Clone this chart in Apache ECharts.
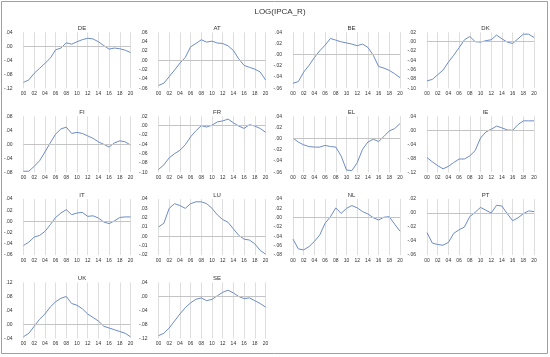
<!DOCTYPE html>
<html><head><meta charset="utf-8">
<script src="https://cdn.jsdelivr.net/npm/echarts@6/dist/echarts.min.js"></script>
<style>html,body{margin:0;padding:0;background:#fff;}#c{width:550px;height:357px;}</style>
</head><body><div id="c"></div>
<script>
const years = ['00','01','02','03','04','05','06','07','08','09','10','11','12','13','14','15','16','17','18','19','20'];
const countries = ['DE','AT','BE','DK','FI','FR','EL','IE','IT','LU','NL','PT','UK','SE'];
const DE = [-0.103,-0.096,-0.077,-0.063,-0.049,-0.034,-0.010,-0.005,0.010,0.006,0.013,0.019,0.023,0.021,0.013,0.002,-0.008,-0.005,-0.007,-0.011,-0.018];
const AT = [-0.054,-0.049,-0.035,-0.021,-0.006,0.006,0.029,0.036,0.044,0.039,0.041,0.037,0.036,0.031,0.021,0.003,-0.011,-0.015,-0.019,-0.025,-0.042];
const BE = [-0.051,-0.048,-0.031,-0.019,-0.005,0.007,0.017,0.029,0.026,0.023,0.021,0.019,0.016,0.019,0.013,-0.001,-0.021,-0.024,-0.028,-0.034,-0.041];
const DK = [-0.084,-0.081,-0.071,-0.061,-0.044,-0.029,-0.013,0.004,0.011,0.000,-0.001,0.002,0.004,0.014,0.006,-0.001,-0.004,0.006,0.016,0.016,0.009];
const FI = [-0.077,-0.077,-0.063,-0.047,-0.022,0.004,0.029,0.044,0.049,0.031,0.034,0.031,0.024,0.017,0.007,0.000,-0.008,0.004,0.010,0.007,-0.002];
const FR = [-0.094,-0.084,-0.069,-0.060,-0.053,-0.041,-0.024,-0.011,0.000,-0.003,0.001,0.008,0.010,0.014,0.006,-0.001,-0.006,0.002,-0.001,-0.006,-0.014];
const EL = [0.001,-0.006,-0.011,-0.014,-0.015,-0.015,-0.012,-0.014,-0.015,-0.031,-0.056,-0.057,-0.043,-0.019,-0.006,-0.001,-0.005,0.004,0.014,0.018,0.027];
const IE = [-0.078,-0.090,-0.101,-0.110,-0.103,-0.092,-0.082,-0.082,-0.073,-0.058,-0.022,-0.005,0.003,0.012,0.007,0.001,0.000,0.016,0.027,0.027,0.027];
const IT = [-0.043,-0.037,-0.028,-0.025,-0.018,-0.006,0.007,0.015,0.021,0.012,0.015,0.016,0.009,0.010,0.006,-0.001,-0.004,0.001,0.007,0.008,0.008];
const LU = [0.010,0.014,0.030,0.035,0.033,0.030,0.035,0.037,0.037,0.035,0.030,0.023,0.018,0.015,0.008,0.001,-0.003,-0.004,-0.008,-0.015,-0.019];
const NL = [-0.046,-0.067,-0.069,-0.062,-0.051,-0.037,-0.012,0.002,0.021,0.009,0.020,0.026,0.021,0.013,0.008,0.000,-0.005,0.001,0.002,-0.014,-0.029];
const PT = [-0.028,-0.043,-0.045,-0.046,-0.042,-0.029,-0.024,-0.020,-0.005,0.001,0.008,0.004,0.000,0.011,0.010,-0.001,-0.011,-0.007,-0.001,0.003,0.002];
const UK = [-0.035,-0.025,-0.005,0.015,0.030,0.050,0.065,0.075,0.080,0.060,0.055,0.045,0.030,0.020,0.010,-0.005,-0.010,-0.015,-0.020,-0.025,-0.035];
const SE = [-0.112,-0.105,-0.090,-0.070,-0.050,-0.032,-0.018,-0.008,-0.004,-0.012,-0.008,0.002,0.012,0.018,0.010,0.000,-0.006,-0.004,-0.012,-0.020,-0.030];
const seriesData = {DE,AT,BE,DK,FI,FR,EL,IE,IT,LU,NL,PT,UK,SE};
// y-axis tick ranges [min, max, step]
const yMin = [-0.12,-0.06,-0.06,-0.10,-0.08,-0.10,-0.06,-0.12,-0.06,-0.02,-0.08,-0.06,-0.04,-0.12];
const yMax = [0.04,0.06,0.04,0.02,0.08,0.02,0.04,0.04,0.04,0.04,0.04,0.02,0.12,0.04];
const yStep = [0.04,0.02,0.02,0.02,0.04,0.02,0.02,0.04,0.02,0.01,0.02,0.02,0.04,0.04];

const colLeft = [23.5, 158.5, 293, 427];
const plotW = 107;
const rowTop = [32.3, 116.3, 199, 282.5];
const plotH = 56;
const font = 'Liberation Sans';
const txt = '#333';
const lineColor = '#6d8cc6';

function fmt(v){
  const n = Math.round(v*100);
  const s = n < 0 ? '-' : '';
  return s + '.' + String(Math.abs(n)).padStart(2,'0');
}

const grids=[], xAxes=[], yAxes=[], series=[], titles=[];
titles.push({text:'LOG(IPCA_R)', left:275, top:3, textAlign:'center',
  textStyle:{fontFamily:font, fontSize:8, fontWeight:'normal', color:txt}});
countries.forEach((c,i)=>{
  const col=i%4, row=Math.floor(i/4);
  const L=colLeft[col], T=rowTop[row];
  grids.push({left:L, top:T, width:plotW, height:plotH, containLabel:false});
  xAxes.push({type:'category', gridIndex:i, data:years, boundaryGap:false,
    axisLine:{show:false}, axisTick:{show:false},
    axisLabel:{interval:1, fontSize:5, fontFamily:font, color:txt, margin:3},
    splitLine:{show:true, interval:1, lineStyle:{color:'#dedede', width:1}}});
  yAxes.push({type:'value', gridIndex:i, min:yMin[i], max:yMax[i], interval:yStep[i],
    axisLine:{show:false}, axisTick:{show:false},
    axisLabel:{fontSize:5, fontFamily:font, color:txt, margin:11, formatter:fmt},
    splitLine:{show:false}});
  series.push({type:'line', xAxisIndex:i, yAxisIndex:i, data:seriesData[c],
    symbol:'none', smooth:false, lineStyle:{color:lineColor, width:1},
    markLine:{silent:true, symbol:'none', label:{show:false},
      lineStyle:{color:'#c4c4c4', width:1, type:'solid'}, data:[{yAxis:0}]}});
  titles.push({text:c, left:L+plotW/2, top:T-12, textAlign:'center',
    textStyle:{fontFamily:font, fontSize:6, fontWeight:'normal', color:txt}});
});

const chart = echarts.init(document.getElementById('c'), null, {renderer:'canvas'});
chart.setOption({
  animation:false,
  backgroundColor:'#fff',
  title:titles, grid:grids, xAxis:xAxes, yAxis:yAxes, series:series,
  graphic:[{type:'rect', shape:{x:1.5, y:1.5, width:546, height:352},
    style:{fill:'none', stroke:'#a0a0a0', lineWidth:1}, silent:true}]
});
</script></body></html>
